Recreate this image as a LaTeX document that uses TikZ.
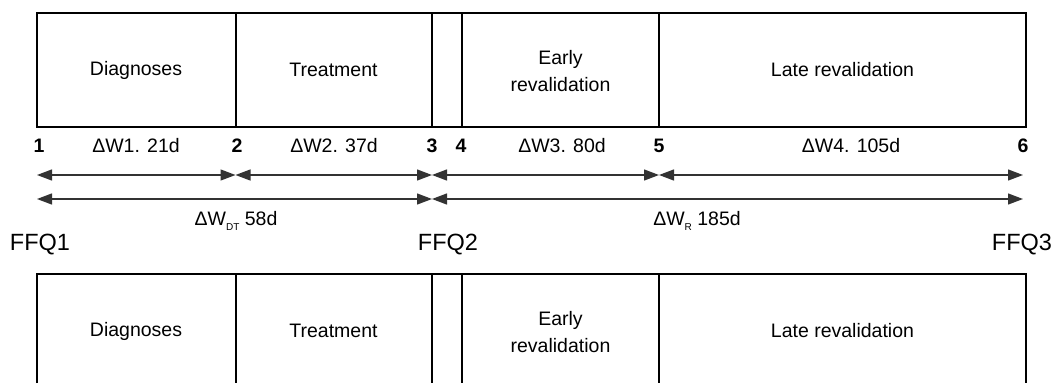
\documentclass[tikz,border=0pt]{standalone}
\usepackage{fontspec}
\setmainfont{Liberation Sans}
\usetikzlibrary{arrows.meta}
\begin{document}
\begin{tikzpicture}[x=1pt,y=-1pt,
  boxline/.style={line width=2pt,black},
  txt/.style={font=\fontsize{19.5}{27}\selectfont,align=center,inner sep=0pt},
  num/.style={font=\fontsize{19.5}{23}\selectfont\bfseries,inner sep=0pt},
  ffq/.style={font=\fontsize{23.5}{28}\selectfont,inner sep=0pt},
  span/.style={line width=1.3pt,draw=black!80,{Triangle[length=15pt,width=11pt]}-{Triangle[length=15pt,width=11pt]}},
  dt/.style={font=\fontsize{10}{10}\selectfont}]
\useasboundingbox (0,0) rectangle (1060,383);
% top box
\draw[boxline] (37,12.5) rectangle (1026,127);
\foreach \x in {235.5,432,462,659}{\draw[boxline] (\x,12.5) -- (\x,127);}
\node[txt] (d1) at (136,70) {Diagnoses};
\node[txt] (t1) at (333.5,70) {Treatment};
\node[txt] (e1) at (560.5,71.5) {Early\\revalidation};
\node[txt] (l1) at (842.5,70) {Late revalidation};
% numbers and intervals
\node[num] (n1) at (39,146) {1};
\node[num] (n2) at (237,146) {2};
\node[num] (n3) at (432,146) {3};
\node[num] (n4) at (461,146) {4};
\node[num] (n5) at (659,146) {5};
\node[num] (n6) at (1023,146) {6};
\node[txt] (w1) at (136,146) {ΔW1. 21d};
\node[txt] (w2) at (334,146) {ΔW2. 37d};
\node[txt] (w3) at (562,146) {ΔW3. 80d};
\node[txt] (w4) at (851,146) {ΔW4. 105d};
% arrow coordinates
\coordinate (a1) at (37,175);
\coordinate (a2) at (235.5,175);
\coordinate (a3) at (432,175);
\coordinate (a5) at (659,175);
\coordinate (a6) at (1023,175);
\coordinate (b1) at (37,199);
\coordinate (b3) at (432,199);
\coordinate (b6) at (1023,199);
\draw[span] (a1) -- (a2);
\draw[span] (a2) -- (a3);
\draw[span] (a3) -- (a5);
\draw[span] (a5) -- (a6);
\draw[span] (b1) -- (b3);
\draw[span] (b3) -- (b6);
\node[txt] (wdt) at (236,221) {ΔW\raisebox{-5pt}{\fontsize{10}{10}\selectfont DT} 58d};
\node[txt] (wr) at (697,221) {ΔW\raisebox{-5pt}{\fontsize{10}{10}\selectfont R} 185d};
% FFQ labels
\node[ffq] (f1) at (40,245) {FFQ1};
\node[ffq] (f2) at (448,245) {FFQ2};
\node[ffq] (f3) at (1022,245) {FFQ3};
% bottom box (cut off)
\draw[boxline] (37,383) -- (37,273.5) -- (1026,273.5) -- (1026,383);
\foreach \x in {235.5,432,462,659}{\draw[boxline] (\x,273.5) -- (\x,383);}
\node[txt] (d2) at (136,331) {Diagnoses};
\node[txt] (t2) at (333.5,331) {Treatment};
\node[txt] (e2) at (560.5,332.5) {Early\\revalidation};
\node[txt] (l2) at (842.5,331) {Late revalidation};
\end{tikzpicture}
\end{document}
